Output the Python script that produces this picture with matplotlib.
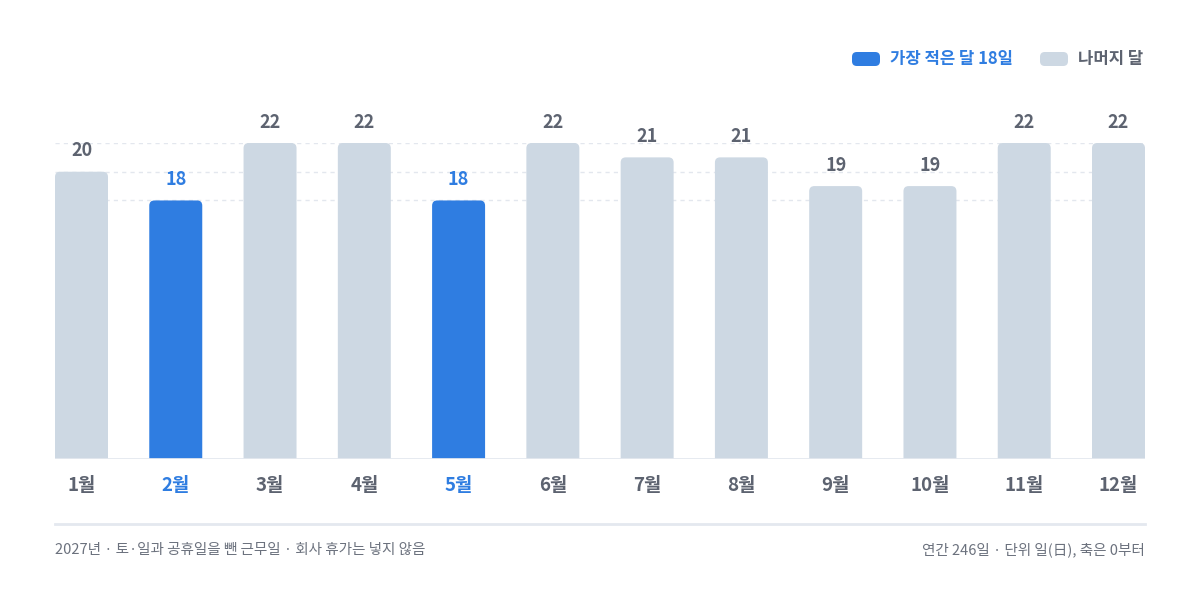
import numpy as np
import matplotlib
matplotlib.use("Agg")
import matplotlib.pyplot as plt
from matplotlib.patches import FancyBboxPatch

plt.rcParams['font.family'] = ['Noto Sans CJK KR', 'DejaVu Sans']

# 2027년 월별 근무일
months = ['1월', '2월', '3월', '4월', '5월', '6월', '7월', '8월', '9월', '10월', '11월', '12월']
days = [20, 18, 22, 22, 18, 22, 21, 21, 19, 19, 22, 22]
grid_vals = [18, 20, 22]
legend_labels = ['가장 적은 달 18일', '나머지 달']
note_left = '2027년 · 토·일과 공휴일을 뺀 근무일 · 회사 휴가는 넣지 않음'
note_right = '연간 246일 · 단위 일(日), 축은 0부터'

BLUE = '#2f7de1'
GRAY_BAR = '#cdd8e3'
TEXT = '#5d6370'
NOTE = '#6b717d'
LINE = '#e4e8ef'

W, H = 1200, 602
fig = plt.figure(figsize=(W / 100, H / 100), dpi=100)
fig.patch.set_facecolor('white')

# axes box in pixels: x 55..1145, baseline at y=459, top(22) at y=143
ax = fig.add_axes([55 / W, (H - 459) / H, 1090 / W, 316 / H])
bw = 0.562
ax.set_xlim(-bw / 2, len(days) - 1 + bw / 2)
ax.set_ylim(0, 22)
ax.axis('off')

min_v = min(days)
x = np.arange(len(days))

for g in grid_vals:
    ax.axhline(g, color='#e3e7ee', lw=1, ls=(0, (3, 3)), zorder=0)

# rounded tops: px per unit in x and y
px_x = 1090 / (ax.get_xlim()[1] - ax.get_xlim()[0])
px_y = 316 / 22
r = 0.055
for xi, v in zip(x, days):
    col = BLUE if v == min_v else GRAY_BAR
    p = FancyBboxPatch((xi - bw / 2, -2), bw, v + 2,
                       boxstyle=f"round,pad=0,rounding_size={r}",
                       mutation_aspect=px_x / px_y,
                       fc=col, ec='none', zorder=2)
    ax.add_patch(p)
    tc = BLUE if v == min_v else TEXT
    ax.annotate(str(v), (xi, v), xytext=(0, 15), textcoords='offset points',
                ha='center', va='center', fontsize=13, fontweight='bold',
                color=tc, annotation_clip=False)
    ax.annotate(months[xi], (xi, 0), xytext=(0, -19), textcoords='offset points',
                ha='center', va='center', fontsize=13.5, fontweight='bold',
                color=tc, annotation_clip=False)

ax.axhline(0, color=LINE, lw=2, zorder=3)

# separator line
fig.add_artist(plt.Line2D([55 / W, 1145 / W], [(H - 524) / H] * 2,
                          color=LINE, lw=2))

# footer notes
fig.text(55 / W, (H - 550) / H, note_left, ha='left', va='center',
         fontsize=10.5, color=NOTE)
fig.text(1145 / W, (H - 550) / H, note_right, ha='right', va='center',
         fontsize=10.5, color=NOTE)

# legend
for (x0, col, lab, tx, tcol) in [(852, BLUE, legend_labels[0], 890, BLUE),
                                 (1040, GRAY_BAR, legend_labels[1], 1078, TEXT)]:
    fig.add_artist(FancyBboxPatch((x0 / W, (H - 66) / H), 28 / W, 14 / H,
                                  boxstyle="round,pad=0,rounding_size=0.004",
                                  mutation_aspect=W / H,
                                  transform=fig.transFigure, fc=col, ec='none'))
    fig.text(tx / W, (H - 59) / H, lab, ha='left', va='center',
             fontsize=12, fontweight='bold', color=tcol)

fig.savefig('out.png', dpi=100, facecolor='white')
